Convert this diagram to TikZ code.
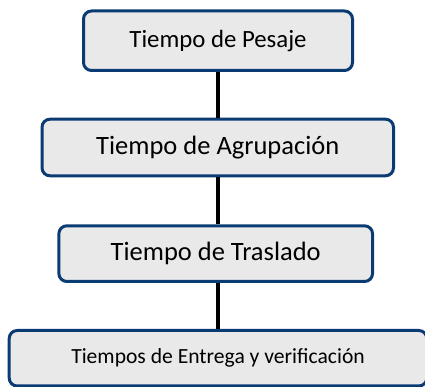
\documentclass[tikz,border=0pt]{standalone}
\usepackage{fontspec}
\setmainfont{Carlito}
\definecolor{boxblue}{HTML}{0B3B73}
\definecolor{boxfill}{HTML}{E9E9E9}
\tikzset{
  stagebox/.style={draw=boxblue, fill=boxfill, line width=3pt, rounded corners=8pt,
    inner sep=0pt, align=center, text=black},
  link/.style={line width=3.5pt, black}
}
\begin{document}
\begin{tikzpicture}[x=1pt,y=1pt]
\useasboundingbox (0,0) rectangle (425,387);
\node[stagebox, minimum width=269pt, minimum height=59.5pt, font=\fontsize{24.8}{28}\selectfont] (b1) at (218,346.25) {Tiempo de Pesaje};
\node[stagebox, minimum width=351.5pt, minimum height=56.6pt, font=\fontsize{26.5}{30}\selectfont] (b2) at (217.75,239.5) {Tiempo de Agrupación};
\node[stagebox, minimum width=313.7pt, minimum height=55.7pt, font=\fontsize{26.5}{30}\selectfont] (b3) at (215.7,133.35) {Tiempo de Traslado};
\node[stagebox, minimum width=417.6pt, minimum height=55.5pt, font=\fontsize{21.6}{25}\selectfont] (b4) at (218,28.75) {Tiempos de Entrega y verificación};
\draw[link] (b1.south) -- (b1.south |- b2.north);
\draw[link] (b1.south |- b2.south) -- (b1.south |- b3.north);
\draw[link] (b1.south |- b3.south) -- (b1.south |- b4.north);
\end{tikzpicture}
\end{document}
